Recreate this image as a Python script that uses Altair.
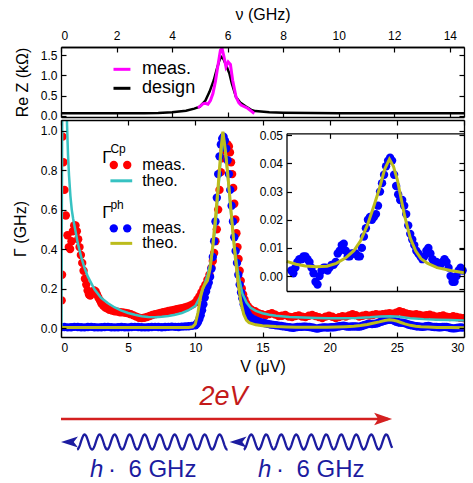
import altair as alt
import numpy as np
import pandas as pd

FONT = "Liberation Sans"
RED, BLUE, CYAN, OLIVE, MAGENTA = "#ff0000", "#0000ff", "#36c2c2", "#bcbc1c", "#ff00ff"
ARROW_RED, TEXT_RED, DIAG_BLUE = "#d42020", "#c41a1a", "#1c1ca0"

# ---------------- layout constants ----------------
W, H_TOP, H_MAIN, H_DIAG = 403, 70, 217, 143
NU_DOMAIN = [0, 14.51]
V_DOMAIN = [0, 30]
ZRE_DOMAIN = [-0.025, 1.697]
G_DOMAIN = [-0.0456, 1.0542]
INSET_V_DOMAIN = [16.79, 30]
INSET_G_DOMAIN = [-0.0053, 0.0507]
INSET_X_RANGE = [225.5, W]
INSET_Y_RANGE = [171, 13.3]

NU_TICKS = [0, 2, 4, 6, 8, 10, 12, 14]
ZRE_TICKS = [0, 0.5, 1.0, 1.5]
V_TICKS = [0, 5, 10, 15, 20, 25, 30]
G_TICKS = [0, 0.2, 0.4, 0.6, 0.8, 1.0]
INSET_V_TICKS = [20, 25]
INSET_G_TICKS = [0, 0.01, 0.02, 0.03, 0.04, 0.05]

# ---------------- data ----------------
# Re Z (kOhm) vs nu (GHz)
design_nu = [0, 2, 3, 3.5, 4.0, 4.5, 4.8, 5.0, 5.2, 5.35, 5.5, 5.6, 5.7, 5.76, 5.85, 5.95, 6.06,
             6.15, 6.3, 6.45, 6.66, 6.85, 7.0, 7.5, 8, 9, 10, 12, 14.51]
design_z = [0.066, 0.066, 0.07, 0.075, 0.09, 0.13, 0.18, 0.23, 0.38, 0.6, 0.88, 1.13, 1.36, 1.46, 1.4,
            1.24, 1.05, 0.8, 0.47, 0.33, 0.23, 0.15, 0.12, 0.09, 0.08, 0.072, 0.07, 0.066, 0.065]
meas_nu = [4.93, 5.05, 5.11, 5.2, 5.29, 5.38, 5.47, 5.56, 5.64, 5.74, 5.8, 5.88, 5.94, 6.02, 6.1,
           6.18, 6.3, 6.4, 6.48, 6.72, 6.85, 6.96]
meas_z = [0.2, 0.26, 0.3, 0.31, 0.29, 0.38, 0.55, 0.85, 1.2, 1.62, 1.66, 1.42, 1.21, 1.33, 1.27,
          0.88, 0.47, 0.33, 0.27, 0.19, 0.12, 0.06]

# Gamma^Cp measured (V in microvolt, Gamma in GHz)
cp_meas = [(0.05,0.14),(0.08,0.27),(0.12,0.97),(0.18,0.84),(0.26,0.70),(0.36,0.57),(0.48,0.47),(0.58,0.41),
    (0.68,0.40),(0.78,0.44),(0.88,0.49),(0.98,0.52),(1.08,0.52),(1.18,0.49),(1.28,0.45),(1.38,0.41),
    (1.48,0.37),(1.58,0.33),(1.68,0.29),(1.78,0.25),(1.88,0.22),(1.98,0.19),(2.08,0.17),(2.18,0.165),
    (2.28,0.175),(2.38,0.185),(2.48,0.19),(2.58,0.185),(2.68,0.17),(2.78,0.155),(2.90,0.14),(3.00,0.125),
    (3.15,0.112),(3.30,0.104),(3.45,0.098),(3.60,0.092),(3.80,0.088),(4.00,0.085),(4.20,0.083),(4.40,0.080),
    (4.60,0.079),(4.80,0.077),(5.00,0.074),(5.20,0.070),(5.40,0.064),(5.60,0.058),(5.80,0.052),(6.00,0.050),
    (6.20,0.052),(6.40,0.056),(6.60,0.061),(6.80,0.066),(7.00,0.070),(7.20,0.073),(7.40,0.077),(7.60,0.080),
    (7.80,0.083),(8.00,0.086),(8.20,0.089),(8.40,0.092),(8.60,0.095),(8.80,0.098),(9.00,0.101),(9.20,0.104),
    (9.40,0.108),(9.60,0.113),(9.80,0.120),(10.00,0.130),(10.15,0.145),(10.30,0.160),(10.45,0.180),
    (10.60,0.200),(10.75,0.220),(10.90,0.245),(11.05,0.270),(11.20,0.305),(11.30,0.34),(11.40,0.38),
    (11.50,0.44),(11.60,0.50),(11.70,0.60),(11.80,0.70),(11.90,0.79),(12.00,0.86),(12.10,0.90),(12.20,0.92),
    (12.30,0.93),(12.40,0.93),(12.50,0.92),(12.58,0.89),(12.66,0.84),(12.74,0.78),(12.82,0.71),(12.90,0.63),
    (12.98,0.55),(13.06,0.48),(13.14,0.41),(13.22,0.35),(13.30,0.29),(13.38,0.24),(13.46,0.20),(13.56,0.17),
    (13.66,0.145),(13.78,0.125),(13.90,0.11),(14.02,0.10),(14.2,0.092),(14.45,0.085),(14.7,0.075),
    (14.95,0.07),(15.2,0.065),(15.45,0.07),(15.7,0.075),(15.95,0.068),(16.2,0.06),(16.45,0.062),(16.7,0.066),
    (16.95,0.058),(17.2,0.055),(17.45,0.06),(17.7,0.064),(17.95,0.058),(18.2,0.055),(18.45,0.062),
    (18.7,0.066),(18.95,0.06),(19.2,0.055),(19.45,0.05),(19.7,0.058),(19.95,0.062),(20.2,0.057),(20.45,0.05),
    (20.7,0.055),(20.95,0.06),(21.2,0.058),(21.45,0.064),(21.7,0.07),(21.95,0.065),(22.2,0.058),
    (22.45,0.062),(22.7,0.066),(22.95,0.063),(23.2,0.066),(23.45,0.07),(23.7,0.068),(23.95,0.07),
    (24.2,0.072),(24.45,0.075),(24.7,0.072),(24.95,0.078),(25.2,0.085),(25.45,0.08),(25.7,0.074),
    (25.95,0.07),(26.2,0.068),(26.45,0.07),(26.7,0.066),(26.95,0.062),(27.2,0.065),(27.45,0.068),
    (27.7,0.062),(27.95,0.058),(28.2,0.06),(28.45,0.064),(28.7,0.058),(28.95,0.055),(29.2,0.06),
    (29.45,0.056),(29.7,0.052),(29.95,0.05)]

# Gamma^ph measured
ph_meas = [(0.0,0.004),(0.25,0.005),(0.5,0.003),(0.75,0.004),(1.0,0.006),(1.25,0.005),(1.5,0.004),
    (1.75,0.003),(2.0,0.005),(2.25,0.006),(2.5,0.004),(2.75,0.003),(3.0,0.004),(3.25,0.005),(3.5,0.006),
    (3.75,0.004),(4.0,0.003),(4.25,0.004),(4.5,0.005),(4.75,0.004),(5.0,0.003),(5.25,0.005),(5.5,0.006),
    (5.75,0.005),(6.0,0.004),(6.25,0.003),(6.5,0.004),(6.75,0.005),(7.0,0.006),(7.25,0.005),(7.5,0.004),
    (7.75,0.005),(8.0,0.006),(8.25,0.007),(8.5,0.006),(8.75,0.005),(9.0,0.007),(9.25,0.008),(9.5,0.009),
    (9.75,0.011),(10.0,0.014),(10.1,0.02),(10.2,0.03),(10.3,0.045),(10.4,0.065),(10.5,0.09),(10.6,0.12),
    (10.7,0.155),(10.8,0.185),(10.9,0.21),(11.0,0.23),(11.1,0.26),(11.2,0.30),(11.3,0.36),(11.4,0.44),
    (11.5,0.54),(11.6,0.66),(11.7,0.78),(11.8,0.87),(11.9,0.93),(12.0,0.96),(12.1,0.97),(12.2,0.95),
    (12.3,0.91),(12.4,0.85),(12.5,0.78),(12.6,0.70),(12.7,0.62),(12.8,0.54),(12.9,0.46),(13.0,0.39),
    (13.1,0.33),(13.2,0.27),(13.3,0.22),(13.4,0.18),(13.5,0.15),(13.6,0.12),(13.7,0.10),(13.8,0.085),
    (13.9,0.07),(14.0,0.06),(14.2,0.05),(14.4,0.042),(14.6,0.036),(14.8,0.031),(15.0,0.027),(15.2,0.024),
    (15.4,0.021),(15.6,0.018),(15.8,0.016),(16.0,0.014),(16.2,0.012),(16.4,0.01),(16.6,0.008),(16.8,0.006),
    (17.0,0.004),(17.15,0.002),(17.3,0.001),(17.45,0.003),(17.6,0.005),(17.75,0.006),(17.9,0.006),
    (18.05,0.007),(18.2,0.007),(18.35,0.006),(18.5,0.005),(18.65,0.003),(18.8,0.001),(18.95,-0.002),
    (19.1,-0.003),(19.25,0.0),(19.4,0.002),(19.55,0.003),(19.7,0.003),(19.85,0.002),(20.0,0.003),
    (20.15,0.004),(20.3,0.004),(20.45,0.005),(20.6,0.008),(20.75,0.009),(20.9,0.011),(21.05,0.0115),
    (21.2,0.009),(21.35,0.007),(21.5,0.007),(21.65,0.008),(21.8,0.008),(21.95,0.008),(22.1,0.007),
    (22.25,0.007),(22.4,0.01),(22.55,0.014),(22.7,0.017),(22.85,0.02),(23.0,0.021),(23.15,0.02),
    (23.3,0.021),(23.45,0.022),(23.6,0.025),(23.75,0.03),(23.9,0.033),(24.05,0.036),(24.2,0.039),
    (24.35,0.041),(24.5,0.042),(24.65,0.041),(24.8,0.036),(24.95,0.032),(25.1,0.029),(25.25,0.027),
    (25.4,0.027),(25.55,0.025),(25.7,0.022),(25.85,0.018),(26.0,0.015),(26.15,0.013),(26.3,0.011),
    (26.45,0.009),(26.6,0.008),(26.75,0.007),(26.9,0.006),(27.05,0.007),(27.2,0.009),(27.35,0.01),
    (27.5,0.008),(27.65,0.006),(27.8,0.005),(27.95,0.005),(28.1,0.004),(28.25,0.004),(28.4,0.005),
    (28.55,0.006),(28.7,0.005),(28.85,0.003),(29.0,0.0),(29.15,-0.002),(29.3,-0.002),(29.45,0.0),
    (29.6,0.002),(29.75,0.003),(29.9,0.002)]

# Gamma^Cp theory
cp_theo = [(0.03,0.0),(0.1,1.3),(0.38,1.3),(0.45,1.03),(0.52,0.88),(0.6,0.77),(0.7,0.67),(0.8,0.6),
    (0.9,0.555),(1.0,0.52),(1.25,0.43),(1.5,0.36),(1.75,0.305),(2.0,0.26),(2.5,0.195),(3.0,0.152),
    (3.5,0.125),(4.0,0.104),(4.5,0.088),(5.0,0.076),(5.5,0.067),(6.0,0.06),(6.5,0.056),(7.0,0.055),
    (7.5,0.057),(8.0,0.061),(8.5,0.067),(9.0,0.076),(9.5,0.09),(10.0,0.112),(10.3,0.15),(10.6,0.205),
    (10.9,0.265),(11.2,0.35),(11.5,0.52),(11.8,0.78),(12.05,0.99),(12.3,0.86),(12.6,0.62),(12.9,0.42),
    (13.2,0.27),(13.5,0.175),(13.8,0.13),(14.1,0.104),(14.5,0.087),(15.0,0.075),(15.5,0.067),(16.0,0.062),
    (17.0,0.056),(18.0,0.053),(19.0,0.051),(20.0,0.05),(21.0,0.05),(22.0,0.051),(23.0,0.054),(23.8,0.058),
    (24.5,0.06),(25.2,0.057),(26.0,0.05),(27.0,0.045),(28.0,0.042),(29.0,0.04),(30.0,0.038)]

# Gamma^ph theory
ph_theo = [(0.0,0.002),(5.0,0.002),(9.5,0.003),(9.8,0.006),(10.0,0.02),(10.2,0.08),(10.4,0.16),
    (10.55,0.2),(10.7,0.22),(10.9,0.24),(11.1,0.3),(11.3,0.42),(11.5,0.56),(11.7,0.72),(11.9,0.9),
    (12.05,0.995),(12.2,0.92),(12.4,0.79),(12.6,0.64),(12.8,0.48),(13.0,0.34),(13.2,0.22),(13.4,0.13),
    (13.6,0.07),(13.8,0.04),(14.0,0.027),(14.5,0.016),(15.0,0.011),(16.0,0.007),(16.8,0.0052),
    (17.5,0.0042),(18.2,0.0036),(19.0,0.0033),(19.8,0.0035),(20.5,0.0045),(21.2,0.0065),(21.8,0.009),
    (22.3,0.0125),(22.8,0.018),(23.3,0.025),(23.7,0.031),(24.1,0.038),(24.45,0.0415),(24.75,0.039),
    (25.05,0.034),(25.3,0.028),(25.6,0.021),(26.0,0.0135),(26.4,0.009),(26.8,0.0062),(27.3,0.0045),
    (28.0,0.003),(29.0,0.002),(30.0,0.0012)]

# diagram (in microvolt along the V axis)
arrow_2eV = [0.0, 24.65]
photon_tips = [0.0, 12.55]
photon_waves = [(1.2, 12.4), (13.6, 24.65)]
photon_labels_h = [2.15, 14.67]
photon_labels_dot = [3.8, 16.3]
photon_labels_ghz = [5.02, 17.53]

# ---------------- helpers ----------------
def sc(domain, rng=None):
    d = dict(domain=domain, nice=False, zero=False)
    if rng is not None:
        d["range"] = rng
    return alt.Scale(**d)


def axis(orient, values, labels=False, ticks=True, domain=True, offset=0, fmt=None, title=None, **kw):
    d = dict(orient=orient, values=values, labels=labels, ticks=ticks, domain=domain, grid=False,
             domainColor="black", domainWidth=1.3, tickColor="black", tickWidth=1.2, tickSize=5,
             labelFont=FONT, labelFontSize=12, labelColor="black", titleFont=FONT, titleFontSize=16,
             titleColor="black", titleFontWeight="normal", zindex=1, title=title)
    if offset:
        d["offset"] = offset
    if fmt:
        d["format"] = fmt
    d.update(kw)
    return alt.Axis(**d)


def pairs(p):
    return pd.DataFrame(p, columns=["V", "G"])

# ---------------- top panel ----------------
df_design = pd.DataFrame({"nu": design_nu, "z": design_z})
df_meas = pd.DataFrame({"nu": meas_nu, "z": meas_z})
top_x = lambda ax: alt.X("nu:Q", scale=sc(NU_DOMAIN), axis=ax)
top_y = lambda ax: alt.Y("z:Q", scale=sc(ZRE_DOMAIN), axis=ax)

top_design = alt.Chart(df_design).mark_line(color="black", strokeWidth=2.5, clip=True).encode(
    x=top_x(axis("top", NU_TICKS, labels=True, ticks=False, fmt="d", title="ν (GHz)",
                 labelPadding=5, titlePadding=7)),
    y=top_y(axis("left", ZRE_TICKS, labels=True, ticks=False, fmt=".1f", title="Re Z (kΩ)",
                 labelPadding=4, titlePadding=10)))
top_meas = alt.Chart(df_meas).mark_line(color=MAGENTA, strokeWidth=3, clip=True).encode(
    x=top_x(axis("bottom", NU_TICKS, offset=-H_TOP)),
    y=top_y(axis("right", ZRE_TICKS, offset=-W, domain=False)))

top_leg = pd.DataFrame({"nu": [1.89, 1.89], "nu2": [2.5, 2.5], "z": [1.148, 0.681],
                        "c": [MAGENTA, "black"], "t": ["meas.", "design"], "tx": [2.92, 2.92]})
top_leg_lines = alt.Chart(top_leg).mark_rule(strokeWidth=3).encode(
    x=top_x(axis("top", NU_TICKS, offset=-H_TOP)), x2="nu2",
    y=top_y(axis("left", ZRE_TICKS, offset=-W)),
    color=alt.Color("c:N", scale=None))
top_leg_text = alt.Chart(top_leg).mark_text(align="left", baseline="middle", font=FONT, fontSize=18,
                                            color="black").encode(
    x=alt.X("tx:Q", scale=sc(NU_DOMAIN), axis=None), y=alt.Y("z:Q", scale=sc(ZRE_DOMAIN), axis=None),
    text="t:N")

top = alt.layer(top_design, top_meas, top_leg_lines, top_leg_text).resolve_axis(
    x="independent", y="independent").properties(width=W, height=H_TOP)

# ---------------- main panel ----------------
df_cp = pairs(cp_meas)
df_ph = pairs(ph_meas)
df_cpt = pairs(cp_theo)
df_pht = pairs(ph_theo)

mx = lambda ax, f="V:Q": alt.X(f, scale=sc(V_DOMAIN), axis=ax)
my = lambda ax, f="G:Q": alt.Y(f, scale=sc(G_DOMAIN), axis=ax)

red = alt.Chart(df_cp).mark_circle(size=70, color=RED, opacity=1, clip=True).encode(
    x=mx(axis("bottom", V_TICKS, labels=True, ticks=False, fmt="d", title="V (μV)",
              labelPadding=5, titlePadding=5)),
    y=my(axis("left", G_TICKS, labels=True, ticks=False, fmt=".1f", title="Γ (GHz)",
              labelPadding=4, titlePadding=12)))
blue = alt.Chart(df_ph).mark_circle(size=70, color=BLUE, opacity=1, clip=True).encode(
    x=mx(axis("top", V_TICKS, offset=-H_MAIN, domain=False)),
    y=my(axis("right", G_TICKS, offset=-W, domain=False)))
cyan = alt.Chart(df_cpt).mark_line(color=CYAN, strokeWidth=2.5, clip=True).encode(
    x=mx(axis("bottom", V_TICKS, offset=-H_MAIN)),
    y=my(axis("left", G_TICKS, offset=-W)))
olive = alt.Chart(df_pht).mark_line(color=OLIVE, strokeWidth=3, clip=True).encode(
    x=mx(None), y=my(None))

# legend of main panel
leg_head = pd.DataFrame({"V": [3.07, 3.07], "G": [0.864, 0.585], "t": ["Γ", "Γ"]})
leg_sup = pd.DataFrame({"V": [3.68, 3.68], "G": [0.905, 0.625], "t": ["Cp", "ph"]})
leg_lab = pd.DataFrame({"V": [6.04] * 4, "G": [0.826, 0.746, 0.505, 0.429],
                        "t": ["meas.", "theo.", "meas.", "theo."]})
leg_dots = pd.DataFrame({"V": [3.93, 4.93, 3.93, 4.93], "G": [0.826, 0.826, 0.505, 0.505],
                         "c": [RED, RED, BLUE, BLUE]})
leg_lines = pd.DataFrame({"V": [3.68, 3.68], "V2": [5.3, 5.3], "G": [0.746, 0.429], "c": [CYAN, OLIVE]})

l_head = alt.Chart(leg_head).mark_text(align="left", baseline="middle", font=FONT, fontSize=17,
                                       color="black").encode(x=mx(None), y=my(None), text="t:N")
l_sup = alt.Chart(leg_sup).mark_text(align="left", baseline="middle", font=FONT, fontSize=12,
                                     color="black").encode(x=mx(None), y=my(None), text="t:N")
l_lab = alt.Chart(leg_lab).mark_text(align="left", baseline="middle", font=FONT, fontSize=16,
                                     color="black").encode(x=mx(None), y=my(None), text="t:N")
l_dots = alt.Chart(leg_dots).mark_circle(size=70, opacity=1).encode(
    x=mx(None), y=my(None), color=alt.Color("c:N", scale=None))
l_lines = alt.Chart(leg_lines).mark_rule(strokeWidth=3).encode(
    x=mx(None), x2="V2", y=my(None), color=alt.Color("c:N", scale=None))

# inset
ix = lambda ax: alt.X("V:Q", scale=sc(INSET_V_DOMAIN, INSET_X_RANGE), axis=ax)
iy = lambda ax: alt.Y("G:Q", scale=sc(INSET_G_DOMAIN, INSET_Y_RANGE), axis=ax)
inset_box = pd.DataFrame({"V": [INSET_V_DOMAIN[0]], "V2": [INSET_V_DOMAIN[1]],
                          "G": [INSET_G_DOMAIN[0]], "G2": [INSET_G_DOMAIN[1]]})
in_bg = alt.Chart(inset_box).mark_rect(color="white").encode(
    x=ix(None), x2="V2", y=iy(axis("left", INSET_G_TICKS, offset=-W, domain=False)), y2="G2")
in_blue = alt.Chart(df_ph[df_ph.V >= 17.15]).mark_circle(size=70, color=BLUE, opacity=1).encode(
    x=ix(axis("top", INSET_V_TICKS, offset=-INSET_Y_RANGE[0])),
    y=iy(axis("left", INSET_G_TICKS, labels=True, ticks=False, fmt=".2f",
              offset=-INSET_X_RANGE[0], labelPadding=4)))
in_olive = alt.Chart(df_pht[df_pht.V >= INSET_V_DOMAIN[0]]).mark_line(color=OLIVE, strokeWidth=3).encode(
    x=ix(axis("bottom", INSET_V_TICKS, offset=INSET_Y_RANGE[1] - H_MAIN)),
    y=iy(axis("right", INSET_G_TICKS, offset=INSET_X_RANGE[0] - W, domain=False)))

main = alt.layer(red, blue, cyan, olive, l_head, l_sup, l_lab, l_dots, l_lines,
                 in_bg, in_blue, in_olive).resolve_scale(
    x="independent", y="independent").properties(width=W, height=H_MAIN)

# ---------------- diagram ----------------
PX_PER_V = W / (V_DOMAIN[1] - V_DOMAIN[0])
RED_HEAD_LEN, BLUE_HEAD_LEN = 18, 17
ARROW_R = "M1,0L-1,-0.7L-0.55,0L-1,0.7Z"
ARROW_L = "M-1,0L1,-0.65L0.5,0L1,0.65Z"
Y_ARROW, Y_WAVE, WAVE_AMP, WAVE_PERIOD = 64, 41, 7.5, 1.117
Y_2EV, Y_PHOTON_TEXT = 78, 6

dx = lambda: alt.X("V:Q", scale=sc(V_DOMAIN), axis=None)
dy = lambda: alt.Y("y:Q", scale=sc([0, H_DIAG]), axis=None)

d_rule = alt.Chart(pd.DataFrame({"V": [arrow_2eV[0]], "V2": [arrow_2eV[1] - 0.3], "y": [Y_ARROW]})).mark_rule(
    color=ARROW_RED, strokeWidth=2.5).encode(x=dx(), x2="V2", y=dy())
d_rhead = alt.Chart(pd.DataFrame({"V": [arrow_2eV[1] - RED_HEAD_LEN / 2 / PX_PER_V], "y": [Y_ARROW]})).mark_point(
    shape=ARROW_R, filled=True, size=RED_HEAD_LEN ** 2, color=ARROW_RED, opacity=1).encode(x=dx(), y=dy())

wave_rows = []
for seg, (a, b) in enumerate(photon_waves):
    t = np.linspace(a, b, 320)
    yy = Y_WAVE - WAVE_AMP * np.cos(2 * np.pi * (t - a) / WAVE_PERIOD)
    wave_rows.append(pd.DataFrame({"V": t, "y": yy, "seg": seg}))
df_wave = pd.concat(wave_rows)
d_wave = alt.Chart(df_wave).mark_line(color=DIAG_BLUE, strokeWidth=2.3).encode(
    x=dx(), y=dy(), detail="seg:N")
d_bheads = alt.Chart(pd.DataFrame({"V": [v + BLUE_HEAD_LEN / 2 / PX_PER_V for v in photon_tips],
                                   "y": [Y_WAVE, Y_WAVE]})).mark_point(
    shape=ARROW_L, filled=True, size=BLUE_HEAD_LEN ** 2, color=DIAG_BLUE, opacity=1).encode(x=dx(), y=dy())
d_2ev = alt.Chart(pd.DataFrame({"V": [12.1], "y": [Y_2EV], "t": ["2eV"]})).mark_text(
    font=FONT, fontSize=27, fontStyle="italic", color=TEXT_RED, align="center", baseline="alphabetic").encode(
    x=dx(), y=dy(), text="t:N")
d_h = alt.Chart(pd.DataFrame({"V": photon_labels_h, "y": [Y_PHOTON_TEXT] * 2, "t": ["h", "h"]})).mark_text(
    font=FONT, fontSize=24, fontStyle="italic", color=DIAG_BLUE, align="left", baseline="alphabetic").encode(
    x=dx(), y=dy(), text="t:N")
d_dot = alt.Chart(pd.DataFrame({"V": photon_labels_dot, "y": [Y_PHOTON_TEXT] * 2, "t": ["·", "·"]})).mark_text(
    font=FONT, fontSize=24, color=DIAG_BLUE, align="center", baseline="alphabetic").encode(
    x=dx(), y=dy(), text="t:N")
d_ghz = alt.Chart(pd.DataFrame({"V": photon_labels_ghz, "y": [Y_PHOTON_TEXT] * 2,
                                "t": ["6 GHz", "6 GHz"]})).mark_text(
    font=FONT, fontSize=24, color=DIAG_BLUE, align="left", baseline="alphabetic").encode(
    x=dx(), y=dy(), text="t:N")

diag = alt.layer(d_rule, d_rhead, d_wave, d_bheads, d_2ev, d_h, d_dot, d_ghz).properties(
    width=W, height=H_DIAG)

chart = alt.vconcat(top, main, diag, spacing=3, bounds="flush").properties(
    padding={"left": 12, "top": 6, "right": 0, "bottom": 0}
).configure(font=FONT).configure_view(strokeWidth=0)

chart.save("out.html", embed_options={"renderer": "svg", "actions": False})
